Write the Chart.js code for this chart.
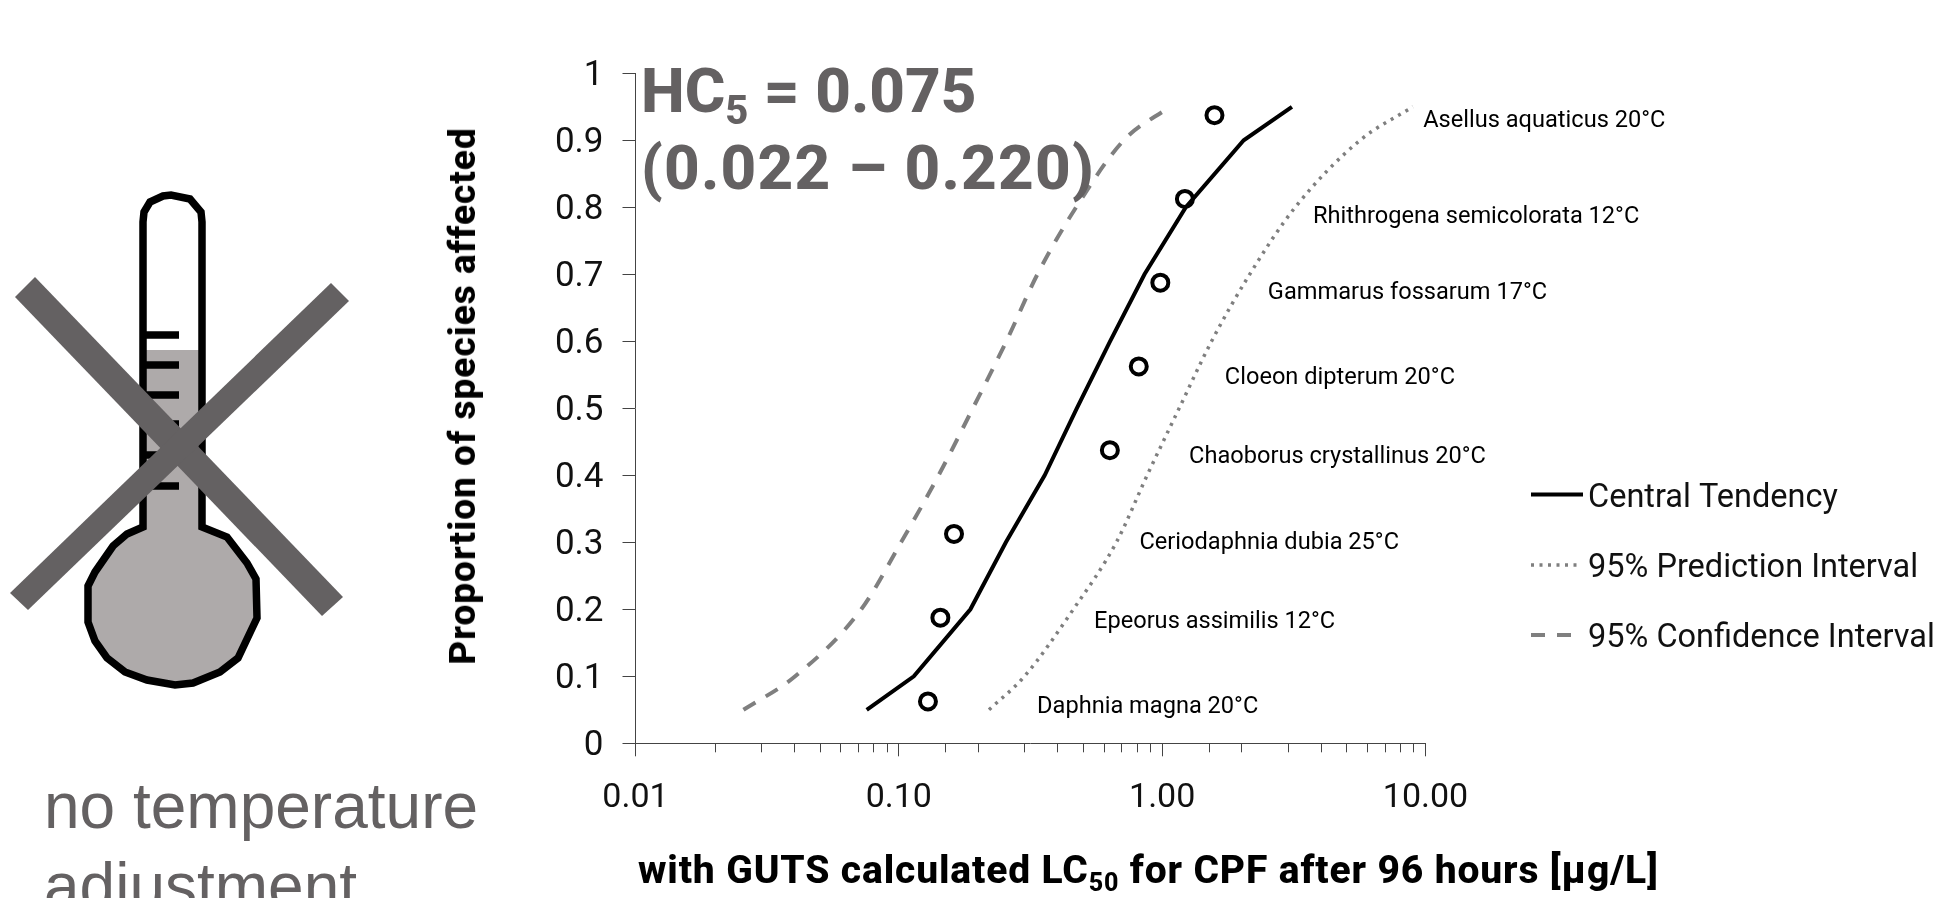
<!DOCTYPE html>
<html>
<head>
<meta charset="utf-8">
<script src="https://cdn.jsdelivr.net/npm/chart.js@4"></script>
<style>
    html, body { margin: 0; padding: 0; background: #fff; width: 1938px; height: 898px; overflow: hidden; }
    #wrap { position: relative; width: 1938px; height: 898px; overflow: hidden; }
    canvas { position: absolute; left: 0; top: 0; display: block; }
    svg { position: absolute; left: 0; top: 0; }
    .note { position: absolute; white-space: nowrap; }
    .hc { left: 641px; font: 800 62px Roboto, sans-serif; color: #646162; line-height: 77px; }
    .hc sub { font-size: 40px; line-height: 0; vertical-align: -12px; }
    .adj { left: 44px; font: 400 64px "Liberation Sans", sans-serif; color: #646162; line-height: 80px; }
    .xtitle { left: 638px; top: 848px; font: 800 39px Roboto, sans-serif; color: #000; line-height: 44px; letter-spacing: 0.85px; }
    .xtitle sub { font-size: 25px; line-height: 0; vertical-align: -8px; }
    .ytitle { left: 463px; top: 396px; font: 800 37px Roboto, sans-serif; color: #000; line-height: 40px; letter-spacing: 1px; transform: translate(-50%, -50%) rotate(-90deg); }
</style>
</head>
<body>
<div id="wrap">
    <svg width="1938" height="898">
        <path fill="#aeaaaa" d="M143 350 L202 350 L202 527 L227 537 L247 563 L256 579 L257 618 L238 658 L220 672 L193 683 L175 685 L147 680 L125 672 L107 658 L95 641 L88 622 L88 586 L95 572 L113 546 L127 534 L143 527 Z"/>
        <path fill="none" stroke="#000" stroke-width="7.5" d="M143 527 L143 222 L144 212 L150 202 L163 196 L171 195 L190 199 L201 212 L202 222 L202 527 L227 537 L247 563 L256 579 L257 618 L238 658 L220 672 L193 683 L175 685 L147 680 L125 672 L107 658 L95 641 L88 622 L88 586 L95 572 L113 546 L127 534 Z"/>
        <path fill="none" stroke="#000" stroke-width="7.5" d="M143 335 H179 M143 365 H179 M143 395 H179 M143 424 H179 M143 455 H179 M143 486 H179"/>
        <path fill="#646162" d="M35 277 L15 297 L322 616 L343 597 Z"/>
        <path fill="#646162" d="M331 283 L349 301 L28 610 L10 593 Z"/>
    </svg>
    <canvas id="cpfChart" width="1938" height="898"></canvas>
    <div class="note hc" style="top:52px">HC<sub>5</sub> = 0.075</div>
    <div class="note hc" style="top:129px;letter-spacing:1.2px">(0.022 – 0.220)</div>
    <div class="note adj" style="top:766px">no temperature<br>adjustment</div>
    <div class="note xtitle">with GUTS calculated LC<sub>50</sub> for CPF after 96 hours [µg/L]</div>
    <div class="note ytitle">Proportion of species affected</div>
</div>

<script>
const levels = [0.05, 0.1, 0.2, 0.3, 0.4, 0.5, 0.6, 0.7, 0.8, 0.9, 0.95];
const central = [0.0755, 0.114, 0.187, 0.255, 0.358, 0.474, 0.634, 0.857, 1.23, 2.04, 3.11];
const prediction = [0.22, 0.30, 0.46, 0.67, 0.877, 1.16, 1.54, 2.15, 3.2, 5.64, 8.95];
const confidence = [0.0257, 0.0404, 0.072, 0.102, 0.1416, 0.191, 0.256, 0.336, 0.471, 0.715, 1.07];

const species = ['Daphnia magna 20°C', 'Epeorus assimilis 12°C', 'Ceriodaphnia dubia 25°C', 'Chaoborus crystallinus 20°C',
    'Cloeon dipterum 20°C', 'Gammarus fossarum 17°C', 'Rhithrogena semicolorata 12°C', 'Asellus aquaticus 20°C'];
const speciesLc50 = [0.129, 0.1438, 0.162, 0.633, 0.815, 0.984, 1.22, 1.58];
const speciesRank = [0.0625, 0.1875, 0.3125, 0.4375, 0.5625, 0.6875, 0.8125, 0.9375];
const speciesLabelX = [0.335, 0.551, 0.82, 1.265, 1.73, 2.52, 3.74, 9.8];
const speciesLabelY = [0.054, 0.181, 0.2985, 0.427, 0.5446, 0.6717, 0.7856, 0.929];

const xTickLabels = [0.01, 0.1, 1, 10];
const legendLabels = ['Central Tendency', '95% Prediction Interval', '95% Confidence Interval'];

const isDecade = v => xTickLabels.includes(Number(v.toPrecision(3)));
const curve = xs => xs.map((x, i) => ({ x, y: levels[i] }));

// species names next to the curve
const speciesLabels = {
    id: 'speciesLabels',
    afterDatasetsDraw(chart) {
        const { ctx, scales } = chart;
        ctx.save();
        ctx.font = '400 23.6px Roboto, sans-serif';
        ctx.fillStyle = '#000';
        ctx.textBaseline = 'middle';
        species.forEach((s, i) => {
            ctx.fillText(s, scales.x.getPixelForValue(speciesLabelX[i]), scales.y.getPixelForValue(speciesLabelY[i]));
        });
        ctx.restore();
    },
};

// minor ticks on the log axis are shorter than the decades
const minorTicks = {
    id: 'minorTicks',
    afterDraw(chart) {
        const { ctx, scales } = chart;
        ctx.save();
        ctx.strokeStyle = '#444';
        ctx.lineWidth = 1;
        scales.x.ticks.forEach(t => {
            if (isDecade(t.value)) return;
            const px = Math.round(scales.x.getPixelForValue(t.value)) + 0.5;
            ctx.beginPath();
            ctx.moveTo(px, scales.x.top);
            ctx.lineTo(px, scales.x.top + 9);
            ctx.stroke();
        });
        ctx.restore();
    },
};

// legend sits beside the plot, samples take their style from the datasets
const sideLegend = {
    id: 'sideLegend',
    afterDraw(chart) {
        const { ctx } = chart;
        const rows = [[494.5, 1583], [565, 1580], [635, 1572]];
        ctx.save();
        legendLabels.forEach((label, i) => {
            const ds = chart.data.datasets[i];
            ctx.beginPath();
            ctx.strokeStyle = ds.borderColor;
            ctx.lineWidth = ds.borderWidth;
            ctx.setLineDash(ds.borderDash || []);
            ctx.moveTo(1531, rows[i][0]);
            ctx.lineTo(rows[i][1], rows[i][0]);
            ctx.stroke();
            ctx.setLineDash([]);
            ctx.font = '400 32.5px Roboto, sans-serif';
            ctx.fillStyle = '#111';
            ctx.textBaseline = 'middle';
            ctx.fillText(label, 1588, rows[i][0] + 4);
        });
        ctx.restore();
    },
};

new Chart(document.getElementById('cpfChart'), {
    type: 'line',
    data: {
        datasets: [
            { label: legendLabels[0], data: curve(central), borderColor: '#000', borderWidth: 4, pointRadius: 0, tension: 0 },
            { label: legendLabels[1], data: curve(prediction), borderColor: '#7f7f7f', borderWidth: 3.5, borderDash: [3, 5.5], pointRadius: 0, cubicInterpolationMode: 'monotone' },
            { label: legendLabels[2], data: curve(confidence), borderColor: '#7f7f7f', borderWidth: 4, borderDash: [14, 12], pointRadius: 0, cubicInterpolationMode: 'monotone' },
            {
                label: 'Species',
                data: speciesLc50.map((x, i) => ({ x, y: speciesRank[i] })),
                showLine: false,
                pointRadius: 8,
                pointBorderWidth: 4,
                pointBorderColor: '#000',
                pointBackgroundColor: 'rgba(255,255,255,0)',
            },
        ],
    },
    plugins: [speciesLabels, minorTicks, sideLegend],
    options: {
        responsive: false,
        animation: false,
        layout: { padding: { left: 445, right: 512.5, top: 73.3, bottom: 0 } },
        plugins: { legend: { display: false }, tooltip: { enabled: false } },
        scales: {
            x: {
                type: 'logarithmic',
                min: 0.01,
                max: 10,
                afterFit(s) { s.height = 898 - 743.3; s.paddingLeft = 0; s.paddingRight = 0; },
                border: { color: '#444', width: 1 },
                grid: {
                    drawOnChartArea: false,
                    tickLength: 13,
                    tickColor: c => (isDecade(c.tick.value) ? '#444' : 'rgba(0,0,0,0)'),
                },
                ticks: {
                    autoSkip: false,
                    maxRotation: 0,
                    padding: 22,
                    color: '#111',
                    font: { family: 'Roboto, sans-serif', size: 34 },
                    callback: v => (isDecade(v) ? Number(v).toFixed(2) : ''),
                },
            },
            y: {
                min: 0,
                max: 1,
                afterFit(s) { s.width = 190.5; s.paddingTop = 0; s.paddingBottom = 0; },
                border: { color: '#444', width: 1 },
                grid: { drawOnChartArea: false, tickLength: 13, tickColor: '#444' },
                ticks: {
                    stepSize: 0.1,
                    padding: 19,
                    labelOffset: 2.5,
                    color: '#111',
                    font: { family: 'Roboto, sans-serif', size: 35 },
                    callback: v => Number(v.toFixed(1)).toString(),
                },
            },
        },
    },
});
</script>
</body>
</html>
